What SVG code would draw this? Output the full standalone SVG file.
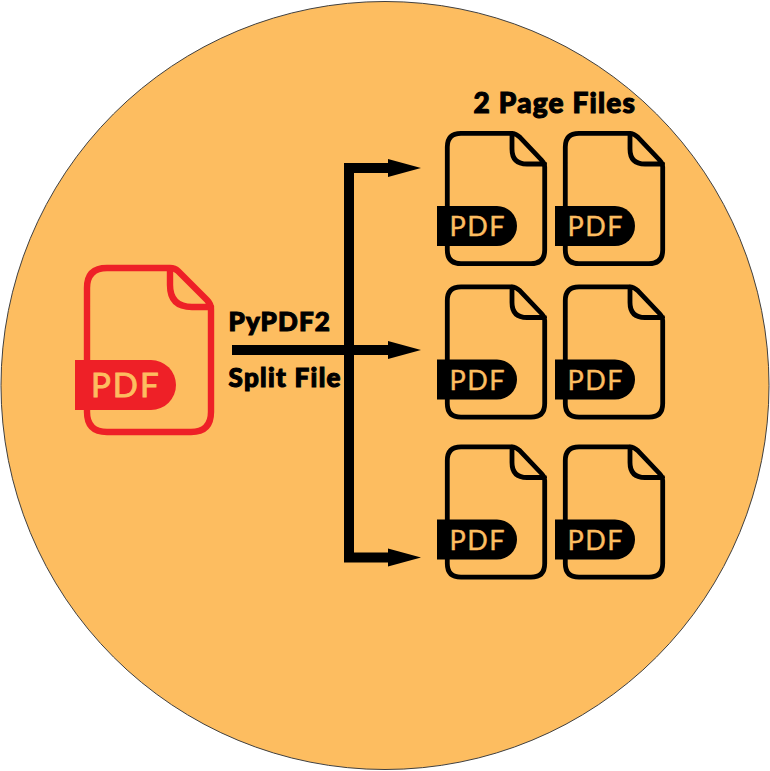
<svg xmlns="http://www.w3.org/2000/svg" width="770" height="771" viewBox="0 0 770 771">
<style>
.doc{fill:none;stroke-linejoin:round;stroke-linecap:round}
.rdoc{stroke:#EE2027;stroke-width:6.400}
.bdoc{stroke:#000;stroke-width:4.800}
.rban{fill:#EE2027}
.bban{fill:#000}
.pdf{fill:#FDBD60;stroke:#FDBD60;font-family:"Lato","Open Sans",sans-serif}
.rpdf{font-size:33px;letter-spacing:2px;stroke-width:.9}
.bpdf{font-size:27px;letter-spacing:1.500px;stroke-width:.4}
.lab{fill:#000;stroke:#000;stroke-width:1.100;font-family:"Lato","Open Sans",sans-serif;font-weight:900;font-size:26px}
.ln{fill:none;stroke:#000;stroke-width:10}
.hd{fill:#000}
</style>
<defs>
<g id="blk-shape">
<path class="doc bdoc" d="M447.300 147V250Q447.300 263.700 461 263.700H531Q544.700 263.700 544.700 250V167Q544.700 163.500 541.500 160L520 137.300Q516 133.300 511.500 133.300H461Q447.300 133.300 447.300 147ZM512 133.300V149Q512 164 527 164H544.700"/>
<path class="bban" d="M437 206H497A20 20 0 0 1 497 246H437Z"/>
</g>
</defs>
<circle cx="385" cy="385.500" r="384" fill="#FDBD60" stroke="#404040" stroke-width="1"/>
<g id="connectors">
<path class="ln" d="M389 168H349V557.500H389"/>
<path class="ln" d="M232 350H389"/>
<path class="hd" d="M388 159L421 168L388 177Z"/>
<path class="hd" d="M388 341L421 350L388 359Z"/>
<path class="hd" d="M388 548.500L421 557.500L388 566.500Z"/>
</g>
<g id="source-pdf">
<path class="doc rdoc" d="M87 288V412Q87 432 107 432H191Q211 432 211 412V309Q211 304 207 300L178 271Q175 268 170 268H107Q87 268 87 288ZM170 268V285Q170 307 192 307H211"/>
<path class="rban" d="M75 360H151A25 25 0 0 1 151 410H75Z"/>
<text class="pdf rpdf" x="91" y="397">PDF</text>
</g>
<text class="lab" x="228.500" y="330.500" style="letter-spacing:1.100px">PyPDF2</text>
<text class="lab" x="228.500" y="386.500" style="letter-spacing:1.300px">Split File</text>
<text class="lab" x="473.500" y="113" style="font-size:28px;letter-spacing:1.200px">2 Page Files</text>
<g id="page-1-1"><use href="#blk-shape"/><text class="pdf bpdf" x="449.500" y="236">PDF</text></g>
<g id="page-1-2" transform="translate(118 0)"><use href="#blk-shape"/><text class="pdf bpdf" x="449.500" y="236">PDF</text></g>
<g id="page-2-1" transform="translate(0 153.500)"><use href="#blk-shape"/><text class="pdf bpdf" x="449.500" y="236">PDF</text></g>
<g id="page-2-2" transform="translate(118 153.500)"><use href="#blk-shape"/><text class="pdf bpdf" x="449.500" y="236">PDF</text></g>
<g id="page-3-1" transform="translate(0 313.500)"><use href="#blk-shape"/><text class="pdf bpdf" x="449.500" y="236">PDF</text></g>
<g id="page-3-2" transform="translate(118 313.500)"><use href="#blk-shape"/><text class="pdf bpdf" x="449.500" y="236">PDF</text></g>
</svg>
